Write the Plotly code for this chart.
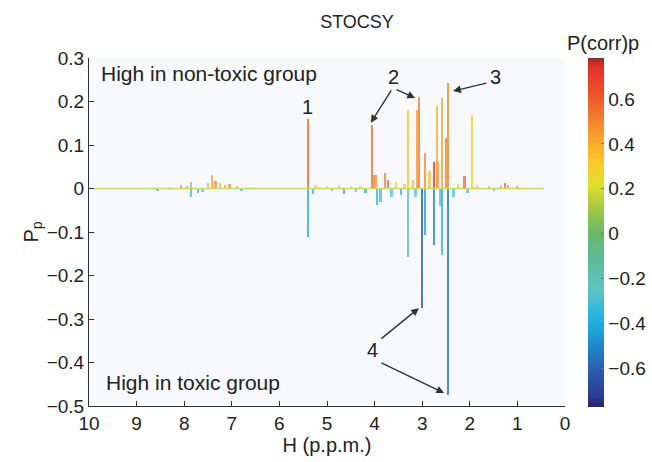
import plotly.graph_objects as go

# ---------------- data ----------------
# main peaks: chemical shift (ppm), loading Pp, correlation P(corr)p
peak_ppm = [5.40, 5.40, 4.05, 4.02, 3.30, 3.30, 3.07, 3.00, 2.94, 2.94, 2.75, 2.75,
            2.58, 2.58, 2.50, 2.46, 2.46, 1.95, 3.12, 2.70]
peak_pp = [0.160, -0.111, 0.146, 0.030, 0.180, -0.157, 0.210, -0.275, 0.082, -0.107,
           0.061, -0.130, 0.208, -0.153, 0.116, 0.243, -0.475, 0.170, 0.18, 0.19]
peak_corr = [0.58, -0.38, 0.55, 0.5, 0.33, -0.2, 0.52, -0.62, 0.48, -0.42,
             0.72, -0.5, 0.42, -0.35, 0.5, 0.5, -0.55, 0.28, 0.45, 0.4]

# small peaks near the baseline
small_ppm = [8.57, 8.30, 8.07, 7.95, 7.86, 7.86, 7.72, 7.62, 7.50, 7.42, 7.35, 7.25,
             7.15, 7.05, 6.90, 6.80, 6.60, 5.30, 5.25, 5.00, 4.90, 4.75, 4.65, 4.50,
             4.40, 4.30, 4.20, 3.98, 3.95, 3.88, 3.79, 3.72, 3.65, 3.55, 3.45, 3.38,
             3.20, 3.15, 2.85, 2.68, 2.62, 2.35, 2.25, 2.12, 2.05, 1.85, 1.60, 1.50,
             1.35, 1.26, 1.20, 1.00]
small_pp = [-0.005, 0.004, 0.008, 0.006, -0.020, 0.014, -0.010, -0.008, 0.012, 0.030,
            0.018, 0.012, 0.008, 0.010, 0.006, -0.005, 0.004, -0.012, 0.008, 0.005,
            -0.006, 0.008, -0.012, 0.006, -0.008, 0.006, -0.010, 0.030, -0.037, -0.030,
            0.036, 0.020, -0.020, 0.015, -0.015, 0.010, 0.020, -0.020, 0.040, 0.060,
            -0.040, -0.020, 0.010, 0.028, -0.010, 0.008, 0.006, -0.006, 0.008, 0.012,
            0.008, 0.005]
small_corr = [-0.3, 0.3, 0.5, 0.45, -0.35, 0.05, -0.4, -0.3, 0.4, 0.45, 0.5, 0.4,
              0.45, 0.5, 0.4, -0.3, 0.3, -0.4, 0.3, 0.3, -0.35, 0.3, -0.45, 0.2,
              -0.3, 0.3, -0.4, 0.5, -0.4, -0.35, 0.55, 0.6, -0.3, 0.3, -0.4, 0.25,
              0.4, -0.3, 0.35, 0.5, -0.3, -0.3, 0.3, 0.6, -0.3, 0.3, 0.4, -0.3,
              0.4, 0.6, 0.5, 0.4]

baseline_ppm = [9.9, 0.45]
baseline_pp = [0.0, 0.0]

x_ticks = [10, 9, 8, 7, 6, 5, 4, 3, 2, 1, 0]
y_ticks = [0.3, 0.2, 0.1, 0, -0.1, -0.2, -0.3, -0.4, -0.5]
cbar_ticks = [0.6, 0.4, 0.2, 0, -0.2, -0.4, -0.6]

labels = ["1", "2", "3", "4"]
label_ppm = [5.42, 3.61, 1.45, 4.05]
label_pp = [0.187, 0.256, 0.256, -0.371]

# arrows: tail (ppm, pp) -> head (ppm, pp)
arrow_tail_ppm = [3.63, 3.57, 1.62, 3.89, 3.89]
arrow_tail_pp = [0.229, 0.229, 0.243, -0.348, -0.399]
arrow_head_ppm = [4.08, 3.15, 2.35, 3.07, 2.54]
arrow_head_pp = [0.151, 0.208, 0.224, -0.275, -0.470]

CMIN, CMAX = -0.77, 0.785
stops = [(-0.77, "#2b2166"), (-0.72, "#2b3c92"), (-0.6, "#2a5fb0"), (-0.48, "#1f8fd0"),
         (-0.38, "#22b3e2"), (-0.25, "#5ec4c6"), (-0.1, "#5dba95"), (0.0, "#68b86a"),
         (0.12, "#a6c843"), (0.22, "#e2df2b"), (0.32, "#fbc82a"), (0.45, "#f79a2e"),
         (0.6, "#ef5b2b"), (0.74, "#e6302a"), (0.765, "#c42c28"), (0.785, "#7b3028")]
colorscale = [[(v - CMIN) / (CMAX - CMIN), c] for v, c in stops]

FONT = "Liberation Sans, Arial, Helvetica, sans-serif"
TXT = "#222"

fig = go.Figure()

fig.add_trace(go.Scatter(
    x=baseline_ppm, y=baseline_pp, mode="lines",
    line=dict(color="#c4d96a", width=1.5), hoverinfo="skip", showlegend=False))

fig.add_trace(go.Bar(
    x=small_ppm, y=small_pp, width=0.04,
    marker=dict(color=small_corr, colorscale=colorscale, cmin=CMIN, cmax=CMAX,
                line=dict(width=0)),
    opacity=0.7, showlegend=False))

fig.add_trace(go.Bar(
    x=peak_ppm, y=peak_pp, width=0.028,
    marker=dict(color=peak_corr, colorscale=colorscale, cmin=CMIN, cmax=CMAX,
                line=dict(width=0),
                colorbar=dict(
                    x=(588 - 89) / 476, xanchor="left", xref="paper",
                    xpad=0, ypad=0,
                    y=0.5, yanchor="middle",
                    thickness=16, len=349, lenmode="pixels",
                    tickvals=cbar_ticks,
                    ticks="inside", ticklen=3, tickcolor="#777",
                    outlinewidth=0,
                    tickfont=dict(family=FONT, size=19, color=TXT))),
    opacity=0.8, showlegend=False))

annotations = []
for t, px, py in zip(labels, label_ppm, label_pp):
    annotations.append(dict(x=px, y=py, xref="x", yref="y", text=t, showarrow=False,
                            font=dict(family=FONT, size=20, color=TXT)))
for tx, ty, hx, hy in zip(arrow_tail_ppm, arrow_tail_pp, arrow_head_ppm, arrow_head_pp):
    annotations.append(dict(x=hx, y=hy, ax=tx, ay=ty, xref="x", yref="y",
                            axref="x", ayref="y", text="", showarrow=True,
                            arrowhead=2, arrowsize=1.1, arrowwidth=1.4,
                            arrowcolor="#333"))
annotations.append(dict(x=9.79, y=0.265, xref="x", yref="y", xanchor="left",
                        text="High in non-toxic group", showarrow=False,
                        font=dict(family=FONT, size=21, color=TXT)))
annotations.append(dict(x=9.68, y=-0.445, xref="x", yref="y", xanchor="left",
                        text="High in toxic group", showarrow=False,
                        font=dict(family=FONT, size=21, color=TXT)))
annotations.append(dict(x=(603 - 89) / 476, y=(406 - 43) / 348, xref="paper", yref="paper",
                        xanchor="center", yanchor="middle",
                        text="P(corr)p", showarrow=False,
                        font=dict(family=FONT, size=20, color=TXT)))

fig.update_layout(
    width=652, height=462,
    margin=dict(l=89, r=87, t=58, b=56, autoexpand=False),
    paper_bgcolor="white", plot_bgcolor="#f7f9fd",
    barmode="overlay", bargap=0,
    title=dict(text="STOCSY", xref="paper", x=(357 - 89) / 476, xanchor="center",
               y=0.952, yanchor="middle",
               font=dict(family=FONT, size=18, color=TXT)),
    font=dict(family=FONT, size=19, color=TXT),
    annotations=annotations,
)
fig.update_xaxes(range=[10, 0], tickvals=x_ticks, ticks="inside", ticklen=5,
                 tickcolor="#333", showline=True, linecolor="#333", linewidth=1,
                 showgrid=False, zeroline=False, mirror=False,
                 title=dict(text="H (p.p.m.)", font=dict(size=20), standoff=2),
                 tickfont=dict(size=19))
fig.update_yaxes(range=[-0.5, 0.3], tickvals=y_ticks, ticks="inside", ticklen=5,
                 tickcolor="#333", showline=True, linecolor="#333", linewidth=1,
                 showgrid=False, zeroline=False, mirror=False,
                 title=dict(text="P<sub>p</sub>", font=dict(size=20), standoff=2),
                 tickfont=dict(size=19))

fig.write_html("out.html")
